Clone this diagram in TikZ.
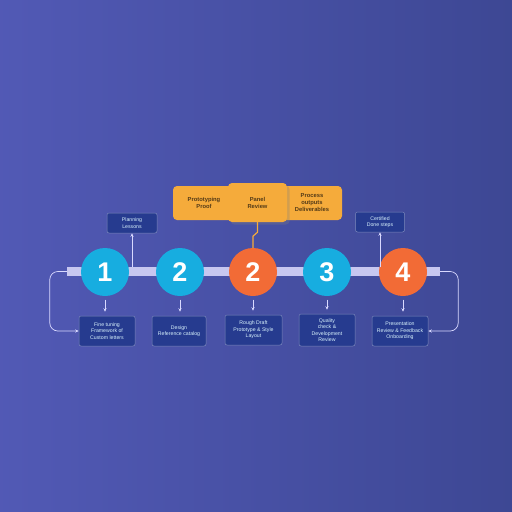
\documentclass[tikz,border=0pt]{standalone}
\usepackage{fontspec}
\setmainfont{Liberation Sans}
\usetikzlibrary{arrows.meta,shadows}
\begin{document}
\begin{tikzpicture}[line join=round, line cap=round, x=1pt, y=-1pt]
	\definecolor{bgleft}{rgb}{0.32, 0.35, 0.71}
	\definecolor{bgright}{rgb}{0.24, 0.28, 0.58}
	\definecolor{cyanstep}{rgb}{0.09, 0.68, 0.88}
	\definecolor{orangestep}{rgb}{0.95, 0.42, 0.21}
	\definecolor{lavenderbar}{rgb}{0.78, 0.78, 0.94}
	\definecolor{amberbox}{rgb}{0.96, 0.67, 0.23}
	\definecolor{navybox}{rgb}{0.15, 0.23, 0.56}
	\definecolor{brownink}{rgb}{0.33, 0.23, 0.09}
	\tikzset{
		stepdot/.style={circle,minimum size=48pt,inner sep=0pt,text=white,font=\fontsize{27}{27}\selectfont\bfseries},
		notebox/.style={draw=navybox!60!white,line width=.5pt,fill=navybox,rounded corners=2pt,minimum height=30pt,inner sep=1pt,align=center,text=white!85!cyan,font=\fontsize{5.2}{6.4}\selectfont},
		tagbox/.style={fill=amberbox,rounded corners=4pt,minimum height=34pt,inner sep=1pt,align=center,text=brownink,font=\fontsize{5.8}{7}\selectfont\bfseries},
		arr/.style={draw=white!85!blue,line width=.7pt,-{Stealth[length=3.5pt,width=3pt]}},
		orangelink/.style={draw=amberbox,line width=1.2pt}
	}
	\useasboundingbox (0,0) rectangle (512,512);
	\shade[left color=bgleft,right color=bgright] (0,0) rectangle (512,512); %nền
	
	%%%%THANH NGANG
	\node[fill=lavenderbar,minimum width=373pt,minimum height=9pt,inner sep=0pt] (bar) at (253.5,271.5) {};
	
	%%%%CÁC BƯỚC
	\node[stepdot,fill=cyanstep] (c1) at (105,272) {1};
	\node[stepdot,fill=cyanstep] (c2) at (180,272) {2};
	\node[stepdot,fill=orangestep] (c3) at (253,272) {2};
	\node[stepdot,fill=cyanstep] (c4) at (327,272) {3};
	\node[stepdot,fill=orangestep] (c5) at (403,272) {4};
	
	%%%%Ô CAM PHÍA TRÊN
	\node[tagbox,minimum width=62pt] (pleft) at (204,203) {Prototyping\\Proof};
	\node[tagbox,minimum width=60pt] (pright) at (312,203) {Process\\outputs\\Deliverables};
	\node[tagbox,minimum width=59pt,minimum height=39pt,drop shadow={opacity=.3}] (pmid) at (257.5,202.5) {Panel\\Review};
	\draw[orangelink] (pmid.south) -- ++(0,10) -- ++(-4.5,4) -- (c3.north);
	
	%%%%Ô XANH ĐẬM
	\node[notebox,minimum width=50pt,minimum height=20pt] (plan) at (132,223) {Planning\\Lessons};
	\node[notebox,minimum width=49pt,minimum height=20pt] (done) at (380,222) {Certified\\Done steps};
	\node[notebox,minimum width=56pt] (n1) at (107,331) {Fine tuning\\Framework of\\Custom letters};
	\node[notebox,minimum width=54pt] (n2) at (179,331) {Design\\Reference catalog};
	\node[notebox,minimum width=57pt] (n3) at (253.5,330) {Rough Draft\\Prototype \& Style\\Layout};
	\node[notebox,minimum width=56pt,minimum height=32pt] (n4) at (327,330) {Quality\\check \&\\Development\\Review};
	\node[notebox,minimum width=56pt] (n5) at (400,331) {Presentation\\Review \& Feedback\\Onboarding};
	
	%%%%MŨI TÊN
	\draw[arr] (plan.south |- bar.north) -- (plan.south);
	\draw[arr] (done.south |- bar.north) -- (done.south);
	\foreach \i in {1,...,5}
		\draw[arr,shorten <=4pt,shorten >=4pt] (c\i.south) -- (c\i.south |- n\i.north);
	\draw[arr,rounded corners=8pt] (bar.west) -- ++(-17,0) |- (n1.west);
	\draw[arr,rounded corners=8pt] (bar.east) -- ++(18,0) |- (n5.east);
\end{tikzpicture}
\end{document}
